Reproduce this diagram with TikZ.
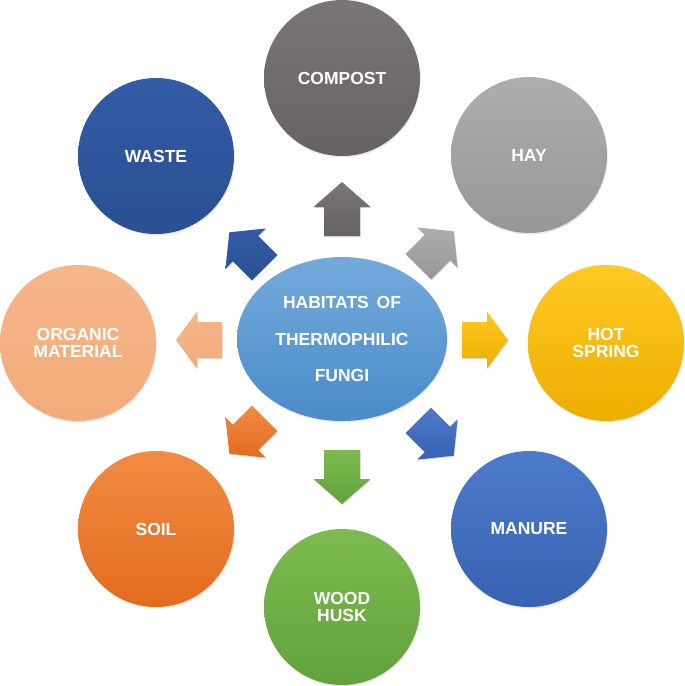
\documentclass[tikz,border=0pt]{standalone}
\usepackage{fontspec}
\setmainfont{Liberation Sans}
\usetikzlibrary{shapes.geometric,shadows}
\definecolor{cCompT}{HTML}{7B7676}\definecolor{cCompB}{HTML}{686363}
\definecolor{cHayT}{HTML}{ADADAD}\definecolor{cHayB}{HTML}{979797}
\definecolor{cHotT}{HTML}{FFC924}\definecolor{cHotB}{HTML}{EDAE00}
\definecolor{cManT}{HTML}{4D7BCB}\definecolor{cManB}{HTML}{3862B2}
\definecolor{cWoodT}{HTML}{7DBA52}\definecolor{cWoodB}{HTML}{62A23A}
\definecolor{cSoilT}{HTML}{F28B43}\definecolor{cSoilB}{HTML}{E26C1E}
\definecolor{cOrgT}{HTML}{F6B689}\definecolor{cOrgB}{HTML}{F2AB7B}
\definecolor{cWasT}{HTML}{335CA6}\definecolor{cWasB}{HTML}{2A4F92}
\definecolor{cCenT}{HTML}{74AADB}\definecolor{cCenB}{HTML}{4A8BC9}
\begin{document}
\begin{tikzpicture}[x=1pt,y=-1pt,
  bubble/.style={circle, minimum size=156pt, inner sep=0pt, text=white,
    font=\bfseries\fontsize{17.5}{16.8}\selectfont, align=center,
    drop shadow={opacity=0.18, shadow xshift=0.8pt, shadow yshift=-1.5pt}},
  hub/.style={ellipse, minimum width=210pt, minimum height=164pt, inner sep=0pt,
    text=white, font=\bfseries\fontsize{17.5}{36.5}\selectfont, align=center,
    top color=cCenT, bottom color=cCenB,
    drop shadow={opacity=0.18, shadow xshift=0.8pt, shadow yshift=-1.5pt}},
  pics/blockarrow/.style 2 args={code={
    \path[pic actions, drop shadow={opacity=0.3, shadow xshift=0.6pt, shadow yshift=-1pt}]
      (0,-#1) -- (28.5,{-#1+#2}) -- (18,{-#1+#2}) -- (18,#1) -- (-18,#1)
      -- (-18,{-#1+#2}) -- (-28.5,{-#1+#2}) -- cycle;}}
]
\useasboundingbox (0,0) rectangle (685,686);

% centre
\node[hub] (c) at (342,339) {HABITATS\, OF\\THERMOPHILIC\\FUNGI};

% outer circles
\node[bubble, top color=cCompT, bottom color=cCompB] (compost) at (342,78) {COMPOST};
\node[bubble, top color=cHayT, bottom color=cHayB] (hay) at (529,155) {HAY};
\node[bubble, top color=cHotT, bottom color=cHotB] (hot) at (606,343) {HOT\\SPRING};
\node[bubble, top color=cManT, bottom color=cManB] (manure) at (529,529) {MANURE};
\node[bubble, top color=cWoodT, bottom color=cWoodB] (wood) at (342,607) {WOOD\\HUSK};
\node[bubble, top color=cSoilT, bottom color=cSoilB] (soil) at (156,529) {SOIL};
\node[bubble, top color=cOrgT, bottom color=cOrgB] (organic) at (78,343) {ORGANIC\\MATERIAL};
\node[bubble, top color=cWasT, bottom color=cWasB] (waste) at (156,156) {WASTE};

% block arrows
\pic[rotate=0, top color=cCompT, bottom color=cCompB] (aup) at (342,209) {blockarrow={27}{25}};
\pic[rotate=-45, top color=cHayT, bottom color=cHayB] (aur) at (436,249) {blockarrow={25}{23}};
\pic[rotate=-90, top color=cHotT, bottom color=cHotB] (ar) at (485,340) {blockarrow={23}{21}};
\pic[rotate=-135, top color=cManT, bottom color=cManB] (adr) at (436,438) {blockarrow={25}{23}};
\pic[rotate=180, top color=cWoodT, bottom color=cWoodB] (ad) at (342,477) {blockarrow={27}{25}};
\pic[rotate=135, top color=cSoilT, bottom color=cSoilB] (adl) at (247,436) {blockarrow={25}{23}};
\pic[rotate=90, top color=cOrgT, bottom color=cOrgB] (al) at (199,340) {blockarrow={23}{21}};
\pic[rotate=45, top color=cWasT, bottom color=cWasB] (aul) at (247,250) {blockarrow={25}{23}};
\end{tikzpicture}
\end{document}
